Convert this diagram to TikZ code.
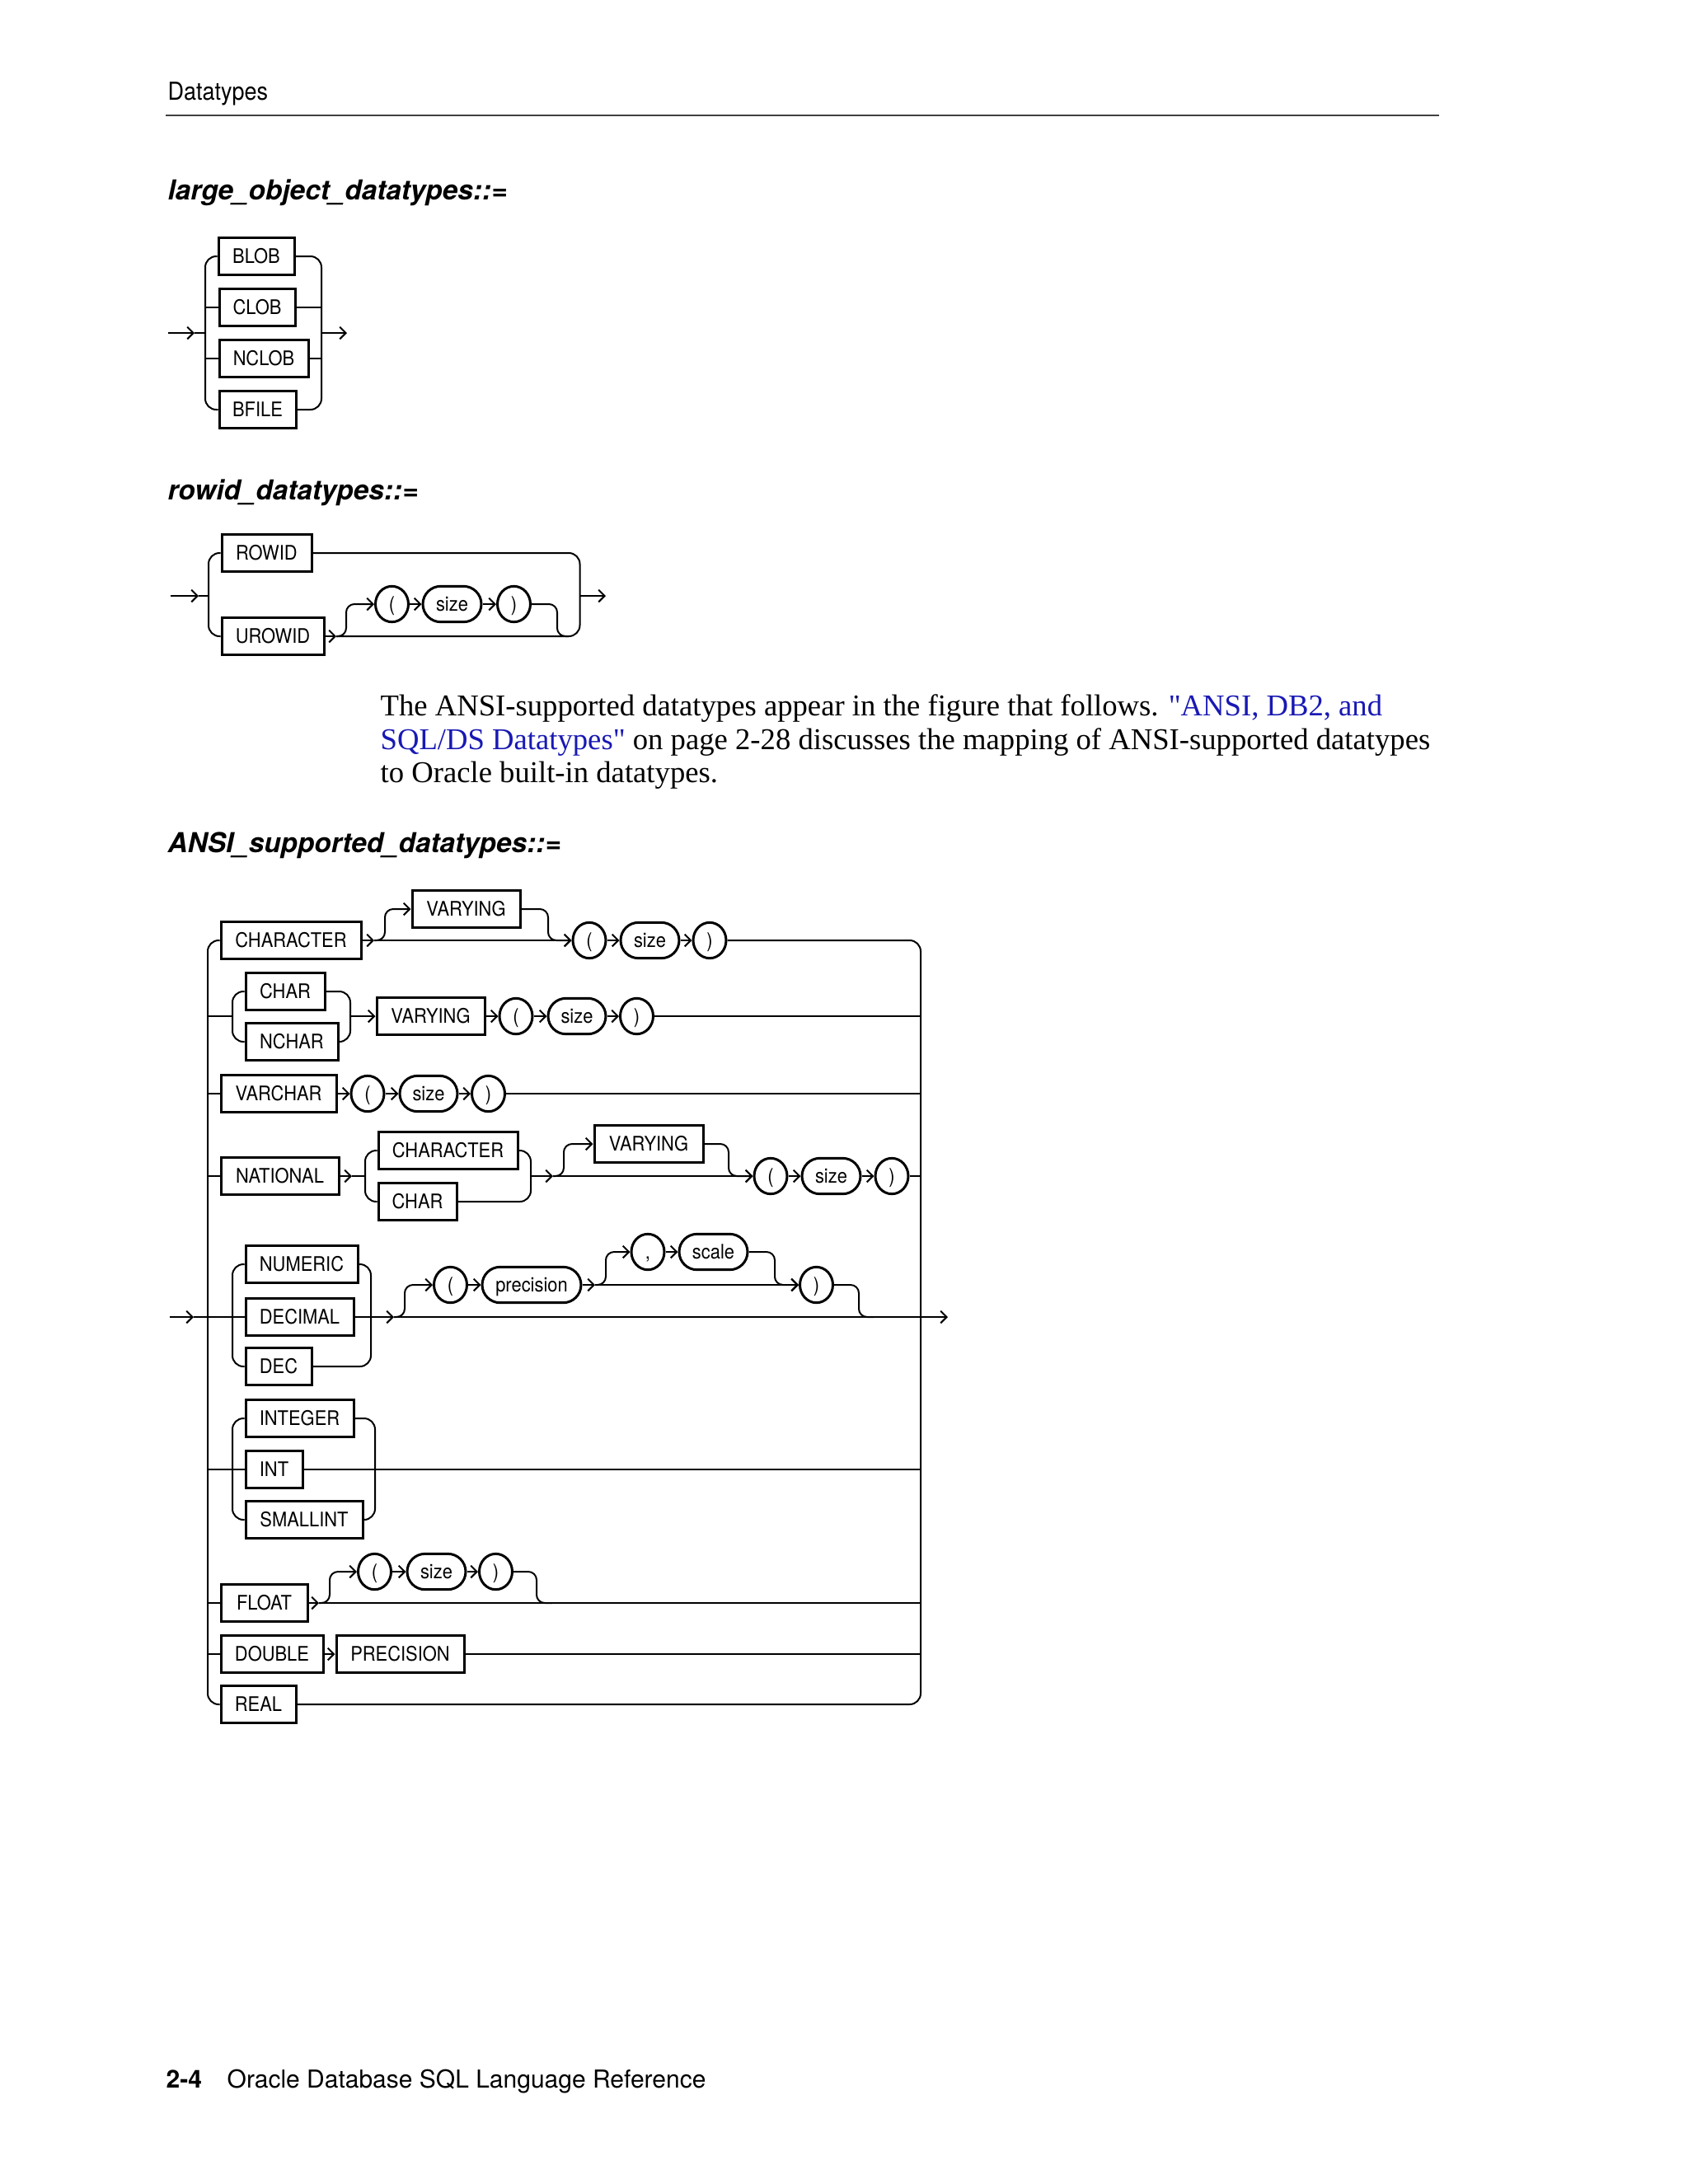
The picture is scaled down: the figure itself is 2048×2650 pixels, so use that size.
\documentclass[tikz,border=0pt]{standalone}
\usepackage{fontspec}
\setmainfont{Liberation Serif}
\newfontfamily\qfont[Ligatures=TeXOff]{Liberation Serif}
\newfontfamily\hvfont{TeX Gyre Heros}
\newfontfamily\dgfont[FakeStretch=0.9]{TeX Gyre Heros}
\usetikzlibrary{arrows.meta,shapes.misc,shapes.geometric}
\definecolor{linkblue}{RGB}{25,25,180}
\newcommand{\sq}{{\qfont "}}
\begin{document}
\begin{tikzpicture}[x=0.3pt,y=-0.3pt,
  conn/.style={line width=0.6pt},
  arr/.style={-{Straight Barb[length=2.2pt,width=4.4pt]}},
  rc/.style={rounded corners=4pt},
  rcs/.style={rounded corners=3pt},
  kw/.style={draw, rectangle, line width=0.9pt, minimum height=13.3pt, inner sep=0pt,
    font=\dgfont\fontsize{7.3}{8}\selectfont, text height=5.25pt, text depth=0pt},
  var/.style={kw, rounded rectangle, minimum height=13pt},
  par/.style={kw, ellipse, minimum width=12pt, minimum height=13pt},
  txt/.style={anchor=base west, inner sep=0pt}
]
\fill[white] (0,0) rectangle (2048,2650);
\useasboundingbox (0,0) rectangle (2048,2650);

% ---------- page header ----------
\node[txt, font=\dgfont\fontsize{9}{10}\selectfont] (hdr) at (203,121) {Datatypes};
\draw[line width=0.6pt, black!75] (201,140) -- (1746,140);

% ---------- headings ----------
\node[txt, font=\fontsize{10}{12}\selectfont\hvfont\bfseries\itshape] (h1) at (203,242) {large\_object\_datatypes::=};
\node[txt, font=\fontsize{10}{12}\selectfont\hvfont\bfseries\itshape] (h2) at (203,606) {rowid\_datatypes::=};
\node[txt, font=\fontsize{10}{12}\selectfont\hvfont\bfseries\itshape] (h3) at (203,1034) {ANSI\_supported\_datatypes::=};

% ---------- body text ----------
\node[txt, font=\fontsize{11}{12}\selectfont] (p1) at (461,868) {The ANSI-supported datatypes appear in the figure that follows. \textcolor{linkblue}{\sq ANSI, DB2, and}};
\node[txt, font=\fontsize{11}{12}\selectfont] (p2) at (461,909) {\textcolor{linkblue}{SQL/DS Datatypes\sq} on page 2-28 discusses the mapping of ANSI-supported datatypes};
\node[txt, font=\fontsize{11}{12}\selectfont] (p3) at (461,949) {to Oracle built-in datatypes.};

% ---------- footer ----------
\node[txt, font=\fontsize{9}{10}\selectfont\hvfont\bfseries] (pg) at (201,2533) {2-4};
\node[txt, font=\fontsize{9}{10}\selectfont\hvfont] (ft) at (275,2533) {Oracle Database SQL Language Reference};

% ================= large_object_datatypes =================
\node[kw, minimum width=27.6pt] (blob) at (311,311) {BLOB};
\node[kw, minimum width=27.6pt] (clob) at (312,373) {CLOB};
\node[kw, minimum width=32.4pt] (nclob) at (320,435) {NCLOB};
\node[kw, minimum width=27.9pt] (bfile) at (312.5,497) {BFILE};
\draw[conn,arr] (204,404) -- (236,404);
\draw[conn] (236,404) -- (249,404);
\draw[conn,rc] (blob.west) -- (249,311) -- (249,497) -- (bfile.west);
\draw[conn] (249,373) -- (clob.west);
\draw[conn] (249,435) -- (nclob.west);
\draw[conn,rc] (blob.east) -- (390,311) -- (390,497) -- (bfile.east);
\draw[conn] (clob.east) -- (390,373);
\draw[conn] (nclob.east) -- (390,435);
\draw[conn,arr] (390,404) -- (421,404);

% ================= rowid_datatypes =================
\node[kw, minimum width=32.7pt] (rowid) at (323.5,671) {ROWID};
\node[kw, minimum width=37.2pt] (urowid) at (331,772) {UROWID};
\node[par] (lp1) at (475.5,733) {(};
\node[var, minimum width=21.3pt] (sz1) at (548.5,733) {size};
\node[par] (rp1) at (623.5,733) {)};
\draw[conn,arr] (207,723) -- (241,723);
\draw[conn] (241,723) -- (253,723);
\draw[conn,rc] (rowid.west) -- (253,671) -- (253,772) -- (urowid.west);
\draw[conn,arr] (urowid.east) -- (408,772);
\draw[conn,rc] (rowid.east) -- (703.5,671) -- (703.5,772) -- (408,772);
\draw[conn,rcs,arr] (408,772) -- (420,772) -- (420,733) -- (lp1.west);
\draw[conn,arr] (lp1.east) -- (sz1.west);
\draw[conn,arr] (sz1.east) -- (rp1.west);
\draw[conn,rcs] (rp1.east) -- (676,733) -- (676,772) -- (690,772);
\draw[conn,arr] (703.5,723) -- (735,723);

% ================= ANSI_supported_datatypes =================
% row 1
\node[kw, minimum width=51pt] (character) at (353,1141) {CHARACTER};
\node[kw, minimum width=39.3pt] (vary1) at (565.5,1103) {VARYING};
\node[par] (lp2) at (715,1141) {(};
\node[var, minimum width=21.3pt] (sz2) at (788.5,1141) {size};
\node[par] (rp2) at (861,1141) {)};
% row 2
\node[kw, minimum width=28.8pt] (char1) at (346,1203) {CHAR};
\node[kw, minimum width=33.6pt] (nchar) at (354,1264) {NCHAR};
\node[kw, minimum width=39.3pt] (vary2) at (522.5,1233) {VARYING};
\node[par] (lp3) at (626,1233) {(};
\node[var, minimum width=21pt] (sz3) at (700,1233) {size};
\node[par] (rp3) at (772.5,1233) {)};
% row 3
\node[kw, minimum width=42pt] (varchar) at (338,1327) {VARCHAR};
\node[par] (lp4) at (446,1327) {(};
\node[var, minimum width=21pt] (sz4) at (520,1327) {size};
\node[par] (rp4) at (592.5,1327) {)};
% row 4
\node[kw, minimum width=42.9pt] (national) at (339.5,1427) {NATIONAL};
\node[kw, minimum width=50.7pt] (character2) at (543.5,1396) {CHARACTER};
\node[kw, minimum width=28.5pt] (char2) at (506.5,1458) {CHAR};
\node[kw, minimum width=39.6pt] (vary3) at (787,1388) {VARYING};
\node[par] (lp5) at (935,1427) {(};
\node[var, minimum width=21.3pt] (sz5) at (1008.5,1427) {size};
\node[par] (rp5) at (1082,1427) {)};
% row 5
\node[kw, minimum width=40.8pt] (numeric) at (366,1534) {NUMERIC};
\node[kw, minimum width=39.3pt] (decimal) at (363.5,1598) {DECIMAL};
\node[kw, minimum width=24pt] (dec) at (338,1658) {DEC};
\node[par] (lp6) at (546.5,1559) {(};
\node[var, minimum width=36pt] (prec) at (645,1559) {precision};
\node[par] (comma) at (786,1519) {,};
\node[var, minimum width=24.9pt] (scale) at (865.5,1519) {scale};
\node[par] (rp6) at (990.5,1559) {)};
% row 6
\node[kw, minimum width=39.3pt] (integer) at (363.5,1721) {INTEGER};
\node[kw, minimum width=20.7pt] (int) at (332.5,1783) {INT};
\node[kw, minimum width=42.6pt] (smallint) at (369,1844) {SMALLINT};
% row 7
\node[kw, minimum width=31.5pt] (float) at (320.5,1945) {FLOAT};
\node[par] (lp7) at (454.5,1907) {(};
\node[var, minimum width=21.3pt] (sz7) at (529.5,1907) {size};
\node[par] (rp7) at (601.5,1907) {)};
% row 8
\node[kw, minimum width=37.2pt] (double) at (330,2007) {DOUBLE};
\node[kw, minimum width=46.5pt] (precision) at (485.5,2007) {PRECISION};
% row 9
\node[kw, minimum width=27.3pt] (real) at (313.5,2068) {REAL};

% rails
\draw[conn,rc] (character.west) -- (252,1141) -- (252,2068) -- (real.west);
\draw[conn,rc] (rp2.east) -- (1117,1141) -- (1117,2068) -- (real.east);
\draw[conn,arr] (206,1598) -- (235,1598);
\draw[conn] (235,1598) -- (252,1598);
\draw[conn,arr] (1117,1598) -- (1150,1598);

% row 1
\draw[conn,arr] (character.east) -- (454,1141);
\draw[conn,arr] (454,1141) -- (lp2.west);
\draw[conn,rcs,arr] (454,1141) -- (467,1141) -- (467,1103) -- (vary1.west);
\draw[conn,rcs,arr] (vary1.east) -- (665,1103) -- (665,1141) -- (lp2.west);
\draw[conn,arr] (lp2.east) -- (sz2.west);
\draw[conn,arr] (sz2.east) -- (rp2.west);

% row 2
\draw[conn] (252,1233) -- (282,1233);
\draw[conn,rc] (char1.west) -- (282,1203) -- (282,1264) -- (nchar.west);
\draw[conn,rc] (char1.east) -- (425,1203) -- (425,1264) -- (nchar.east);
\draw[conn,arr] (425,1233) -- (vary2.west);
\draw[conn,arr] (vary2.east) -- (lp3.west);
\draw[conn,arr] (lp3.east) -- (sz3.west);
\draw[conn,arr] (sz3.east) -- (rp3.west);
\draw[conn] (rp3.east) -- (1117,1233);

% row 3
\draw[conn] (252,1327) -- (varchar.west);
\draw[conn,arr] (varchar.east) -- (lp4.west);
\draw[conn,arr] (lp4.east) -- (sz4.west);
\draw[conn,arr] (sz4.east) -- (rp4.west);
\draw[conn] (rp4.east) -- (1117,1327);

% row 4
\draw[conn] (252,1427) -- (national.west);
\draw[conn,arr] (national.east) -- (427,1427);
\draw[conn] (427,1427) -- (443,1427);
\draw[conn,rc] (character2.west) -- (443,1396) -- (443,1458) -- (char2.west);
\draw[conn,rc] (character2.east) -- (644,1396) -- (644,1458) -- (char2.east);
\draw[conn,arr] (644,1427) -- (671,1427);
\draw[conn,arr] (671,1427) -- (lp5.west);
\draw[conn,rcs,arr] (671,1427) -- (684,1427) -- (684,1388) -- (vary3.west);
\draw[conn,rcs,arr] (vary3.east) -- (884,1388) -- (884,1427) -- (lp5.west);
\draw[conn,arr] (lp5.east) -- (sz5.west);
\draw[conn,arr] (sz5.east) -- (rp5.west);
\draw[conn] (rp5.east) -- (1117,1427);

% row 5
\draw[conn] (252,1598) -- (decimal.west);
\draw[conn,rc] (numeric.west) -- (282,1534) -- (282,1658) -- (dec.west);
\draw[conn,rc] (numeric.east) -- (450,1534) -- (450,1658) -- (dec.east);
\draw[conn] (decimal.east) -- (450,1598);
\draw[conn,arr] (450,1598) -- (478,1598);
\draw[conn] (478,1598) -- (1117,1598);
\draw[conn,rcs,arr] (478,1598) -- (491,1598) -- (491,1559) -- (lp6.west);
\draw[conn,arr] (lp6.east) -- (prec.west);
\draw[conn,arr] (prec.east) -- (722,1559);
\draw[conn,arr] (722,1559) -- (rp6.west);
\draw[conn,rcs,arr] (722,1559) -- (735,1559) -- (735,1519) -- (comma.west);
\draw[conn,arr] (comma.east) -- (scale.west);
\draw[conn,rcs,arr] (scale.east) -- (940,1519) -- (940,1559) -- (rp6.west);
\draw[conn,rcs] (rp6.east) -- (1042,1559) -- (1042,1598) -- (1060,1598);

% row 6
\draw[conn] (252,1783) -- (int.west);
\draw[conn,rc] (integer.west) -- (282,1721) -- (282,1844) -- (smallint.west);
\draw[conn,rc] (integer.east) -- (455,1721) -- (455,1844) -- (smallint.east);
\draw[conn] (int.east) -- (1117,1783);

% row 7
\draw[conn] (252,1945) -- (float.west);
\draw[conn,arr] (float.east) -- (387,1945);
\draw[conn] (387,1945) -- (1117,1945);
\draw[conn,rcs,arr] (387,1945) -- (400,1945) -- (400,1907) -- (lp7.west);
\draw[conn,arr] (lp7.east) -- (sz7.west);
\draw[conn,arr] (sz7.east) -- (rp7.west);
\draw[conn,rcs] (rp7.east) -- (651,1907) -- (651,1945) -- (670,1945);

% row 8
\draw[conn] (252,2007) -- (double.west);
\draw[conn,arr] (double.east) -- (precision.west);
\draw[conn] (precision.east) -- (1117,2007);
\end{tikzpicture}
\end{document}
